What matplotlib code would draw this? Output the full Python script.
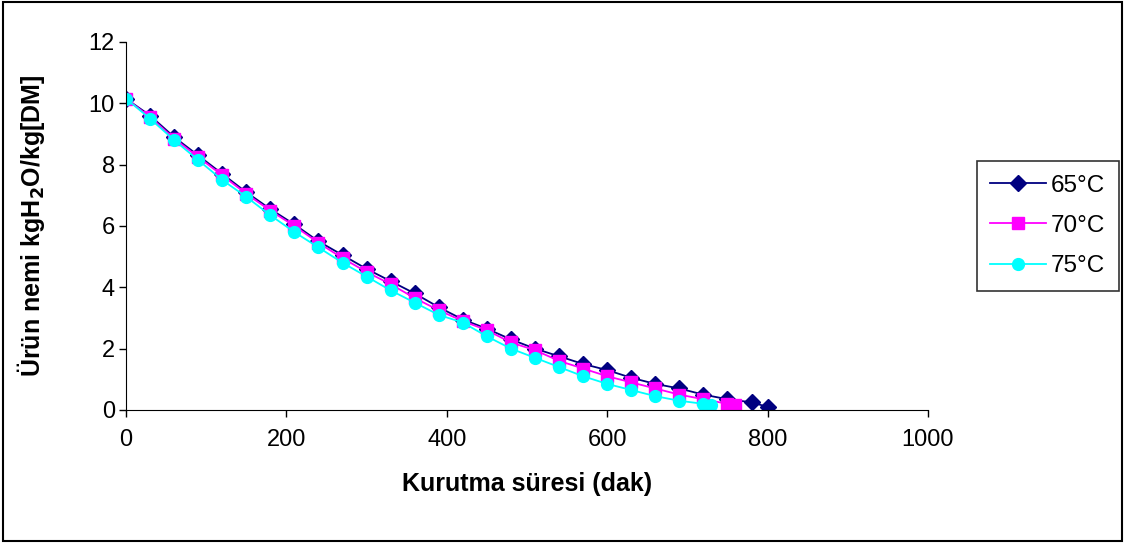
import numpy as np
import matplotlib.pyplot as plt
from matplotlib.patches import Rectangle

plt.rcParams['font.family'] = ['Liberation Sans', 'DejaVu Sans']

# drying time (min) and moisture content for each temperature
t_65 = [0, 30, 60, 90, 120, 150, 180, 210, 240, 270, 300, 330, 360, 390, 420,
        450, 480, 510, 540, 570, 600, 630, 660, 690, 720, 750, 780, 800]
m_65 = [10.15, 9.6, 8.9, 8.3, 7.7, 7.1, 6.55, 6.05, 5.5, 5.05, 4.6, 4.2, 3.8, 3.35, 2.95,
        2.65, 2.3, 2.0, 1.75, 1.5, 1.3, 1.05, 0.85, 0.7, 0.5, 0.35, 0.25, 0.1]

t_70 = [0, 30, 60, 90, 120, 150, 180, 210, 240, 270, 300, 330, 360, 390, 420,
        450, 480, 510, 540, 570, 600, 630, 660, 690, 720, 750, 760]
m_70 = [10.15, 9.55, 8.85, 8.25, 7.65, 7.05, 6.5, 6.0, 5.45, 4.95, 4.5, 4.1, 3.65, 3.25, 2.9,
        2.6, 2.2, 1.95, 1.6, 1.35, 1.1, 0.9, 0.7, 0.5, 0.35, 0.2, 0.15]

t_75 = [0, 30, 60, 90, 120, 150, 180, 210, 240, 270, 300, 330, 360, 390, 420,
        450, 480, 510, 540, 570, 600, 630, 660, 690, 720, 730]
m_75 = [10.15, 9.5, 8.8, 8.15, 7.5, 6.95, 6.35, 5.8, 5.3, 4.8, 4.35, 3.9, 3.5, 3.1, 2.85,
        2.4, 2.0, 1.7, 1.4, 1.1, 0.85, 0.65, 0.45, 0.3, 0.2, 0.15]

fig = plt.figure(figsize=(11.27, 5.43), dpi=100)
ax = fig.add_axes([0.1118, 0.245, 0.7116, 0.6777])

ax.plot(t_65, m_65, color='#000080', marker='D', markersize=8, lw=1.3, label='65°C')
ax.plot(t_70, m_70, color='#FF00FF', marker='s', markersize=8, lw=1.3, label='70°C')
ax.plot(t_75, m_75, color='#00FFFF', marker='o', markersize=8.5, lw=1.3, label='75°C')

ax.set_xlim(0, 1000)
ax.set_ylim(0, 12)
ax.set_xticks(np.arange(0, 1001, 200))
ax.set_yticks(np.arange(0, 13, 2))
ax.spines['top'].set_visible(False)
ax.spines['right'].set_visible(False)
ax.tick_params(direction='out', length=5, width=1, labelsize=17)
ax.tick_params(axis='x', pad=9)
ax.tick_params(axis='y', pad=3)

ax.set_xlabel('Kurutma süresi (dak)', fontsize=18, fontweight='bold', labelpad=15)
ax.set_ylabel('Ürün nemi kgH$_\\mathbf{2}$O/kg[DM]', fontsize=18, fontweight='bold', labelpad=30)

leg = ax.legend(loc='center left', bbox_to_anchor=(0.867, 0.584),
                bbox_transform=fig.transFigure, fontsize=17.5, frameon=True,
                fancybox=False, edgecolor='black', handlelength=2.3,
                borderpad=0.55, labelspacing=0.75, handletextpad=0.2,
                borderaxespad=0)
leg.get_frame().set_linewidth(1.2)

# outer frame around the whole chart
fig.patches.append(Rectangle((0.003, 0.004), 0.993, 0.992, transform=fig.transFigure,
                             fill=False, edgecolor='black', lw=1.5))

fig.savefig('out.png', dpi=100)
